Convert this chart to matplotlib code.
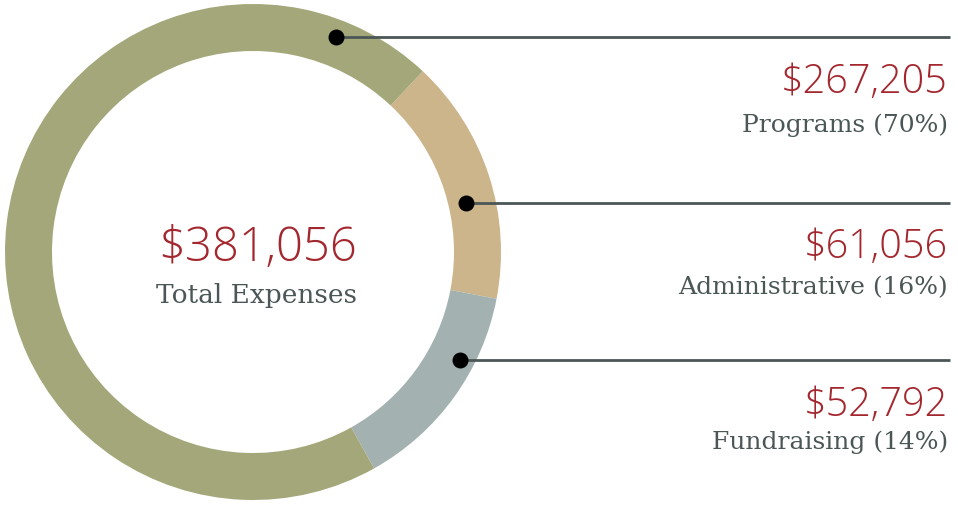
import matplotlib
matplotlib.use('Agg')
import matplotlib.pyplot as plt

# data
categories = ['Administrative', 'Fundraising', 'Programs']
amounts = [61056, 52792, 267205]
total_label = 381056
colors = ['#ccb48b', '#a3b2b1', '#a4a779']

W, H = 958, 506
RED = '#a3272e'
GRAY = '#4b5656'

fig = plt.figure(figsize=(W / 100, H / 100), dpi=100)
ax = fig.add_axes([0, 0, 1, 1])
ax.set_xlim(0, W)
ax.set_ylim(0, H)
ax.set_aspect('equal')
ax.axis('off')

cx, cy, R = 253, H - 253, 248
ax.pie(amounts, colors=colors, startangle=46.8, counterclock=False,
       center=(cx, cy), radius=R, wedgeprops=dict(width=47, linewidth=0))
ax.set_xlim(0, W)
ax.set_ylim(0, H)

# centre text
ax.text(258, H - 261, '${:,}'.format(total_label), ha='center', va='baseline',
        fontsize=34, color=RED, family='Open Sans', fontweight='light')
ax.text(257, H - 303, 'Total Expenses', ha='center', va='baseline',
        fontsize=19, color=GRAY, family='DejaVu Serif')

# callouts: dot position, number baseline, label baseline (image pixels)
callouts = {'Programs': (336, 38, 93, 132),
            'Administrative': (466, 204, 258, 294),
            'Fundraising': (460, 361, 416, 449)}
total = sum(amounts)
for name, val in zip(categories, amounts):
    x, y, yn, yl = callouts[name]
    pct = round(val / total * 100)
    ax.plot([x, 950], [H - y, H - y], color=GRAY, lw=2, solid_capstyle='butt', zorder=3)
    ax.scatter([x], [H - y], s=110, color='black', zorder=4)
    ax.text(948, H - yn, '${:,}'.format(val), ha='right', va='baseline',
            fontsize=28.5, color=RED, family='Open Sans', fontweight='light')
    ax.text(948, H - yl, '{} ({}%)'.format(name, pct), ha='right', va='baseline',
            fontsize=18, color=GRAY, family='DejaVu Serif')

fig.savefig('out.png', dpi=100)
